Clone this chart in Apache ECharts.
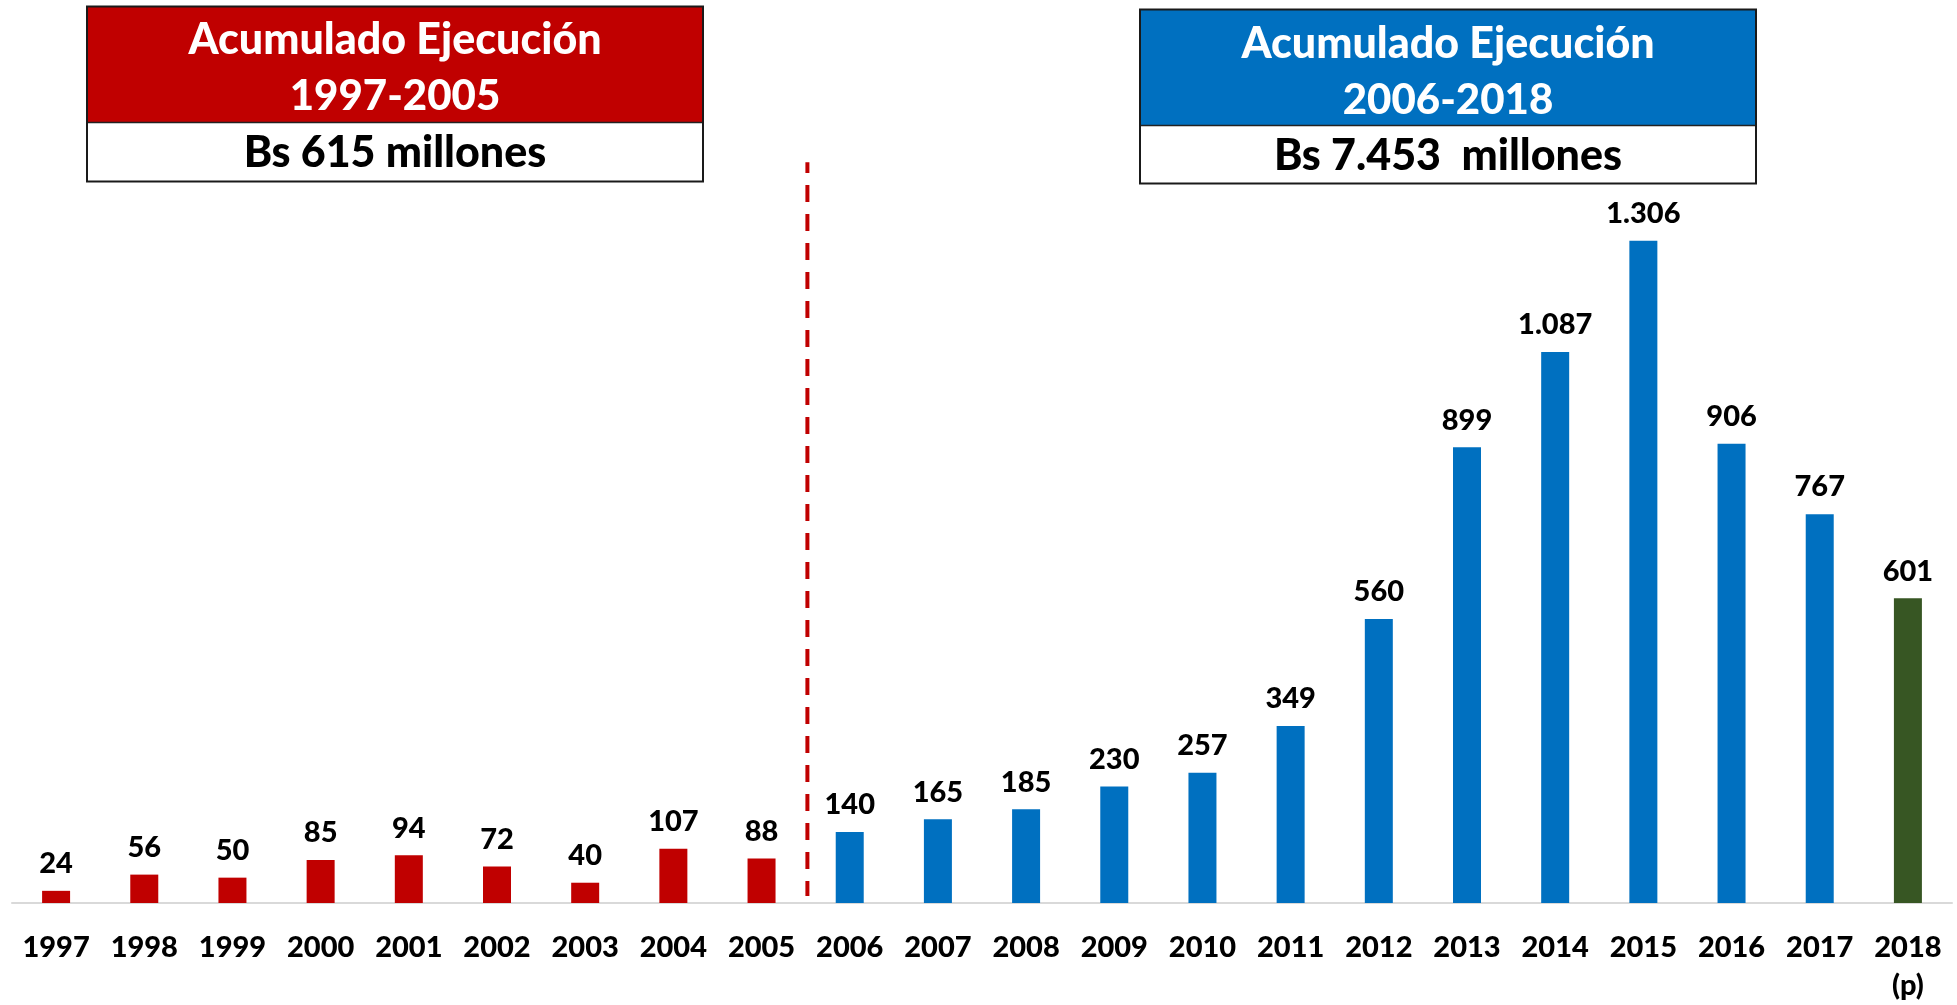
<!DOCTYPE html>
<html>
<head>
<meta charset="utf-8">
<script src="https://cdn.jsdelivr.net/npm/echarts@6/dist/echarts.min.js"></script>
<style>
html,body{margin:0;padding:0;background:#fff;}
#c{width:1957px;height:1005px;}
</style>
</head>
<body>
<div id="c"></div>
<script>
// ---- data ----
const years = ['1997','1998','1999','2000','2001','2002','2003','2004','2005','2006','2007','2008','2009','2010','2011','2012','2013','2014','2015','2016','2017','2018\n(p)'];
const values = [24,56,50,85,94,72,40,107,88,140,165,185,230,257,349,560,899,1087,1306,906,767,601];
const periods = ['A','A','A','A','A','A','A','A','A','B','B','B','B','B','B','B','B','B','B','B','B','P'];
const dividerPoints = [[8.52,1461],[8.52,14]];
const boxLeftLines = ['Acumulado Ejecución','1997-2005','Bs 615 millones'];
const boxRightLines = ['Acumulado Ejecución','2006-2018','Bs 7.453  millones'];

const periodColor = {A:'#C00000', B:'#0070C0', P:'#375623'};
const FONT = 'Lato, "Open Sans", sans-serif';

function fmt(v){ return String(v).replace(/\B(?=(\d{3})+(?!\d))/g,'.'); }

const barData = values.map((v,i)=>({value:v, itemStyle:{color:periodColor[periods[i]]}}));

function box(x,y,w,hHead,hBody,color,lines,dy){
  return [
    {type:'rect', shape:{x:x,y:y,width:w,height:hHead}, style:{fill:color}},
    {type:'rect', shape:{x:x,y:y+hHead,width:w,height:hBody}, style:{fill:'#fff'}},
    {type:'line', shape:{x1:x,y1:y+hHead,x2:x+w,y2:y+hHead}, style:{stroke:'#222',lineWidth:1.5}},
    {type:'rect', shape:{x:x,y:y,width:w,height:hHead+hBody}, style:{fill:null,stroke:'#1a1a1a',lineWidth:2}},
    {type:'text', x:x+w/2, y:y+34+dy, style:{text:lines[0], fill:'#fff', font:'900 43px '+FONT, align:'center', verticalAlign:'middle'}},
    {type:'text', x:x+w/2, y:y+90+dy, style:{text:lines[1], fill:'#fff', font:'900 42px '+FONT, align:'center', verticalAlign:'middle'}},
    {type:'text', x:x+w/2, y:y+hHead+31, style:{text:lines[2], fill:'#000', font:'900 43px '+FONT, align:'center', verticalAlign:'middle'}}
  ];
}

const chart = echarts.init(document.getElementById('c'), null, {renderer:'canvas'});
chart.setOption({
  animation:false,
  backgroundColor:'#fff',
  grid:{left:12, right:5, top:142.5, bottom:99, containLabel:false},
  xAxis:[
    {type:'category', data:years, boundaryGap:true,
     axisLine:{show:true, lineStyle:{color:'#D9D9D9', width:2}},
     axisTick:{show:false},
     axisLabel:{interval:0, margin:26, color:'#000', fontFamily:FONT, fontWeight:900, fontSize:29, lineHeight:38}},
    {type:'value', min:-0.5, max:21.5, show:false}
  ],
  yAxis:{type:'value', min:0, max:1500, show:false, splitLine:{show:false}},
  series:[
    {type:'bar', data:barData, barWidth:28, xAxisIndex:0,
     label:{show:true, position:'top', distance:12.5, color:'#000', fontFamily:FONT, fontWeight:900, fontSize:29,
            formatter:p=>fmt(p.value)}},
    {type:'line', xAxisIndex:1, data:dividerPoints, symbol:'none', silent:true,
     lineStyle:{color:'#C00000', width:4, type:[17,12], dashOffset:6.3}}
  ],
  graphic:[
    ...box(87,6.5,616,116,59,'#C00000',boxLeftLines,0),
    ...box(1140,9.5,616,116,58,'#0070C0',boxRightLines,1)
  ]
});
</script>
</body>
</html>
